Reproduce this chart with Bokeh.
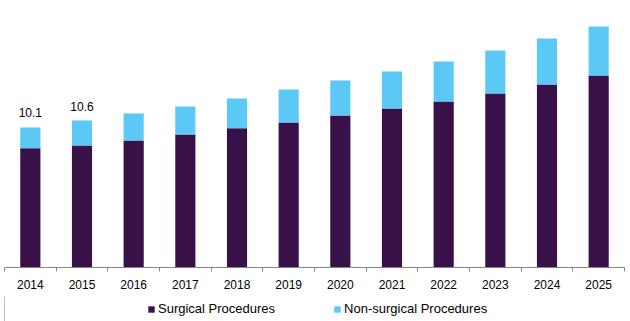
from bokeh.plotting import figure
from bokeh.models import ColumnDataSource, FixedTicker, Legend, LegendItem, Range1d
from bokeh.layouts import column
from bokeh.core.properties import value
from bokeh.embed import file_html
from bokeh.resources import INLINE

years = ["2014", "2015", "2016", "2017", "2018", "2019", "2020", "2021", "2022", "2023", "2024", "2025"]
surgical = [8.61, 8.80, 9.16, 9.60, 10.05, 10.46, 10.97, 11.47, 11.98, 12.55, 13.20, 13.85]
non_surgical = [1.49, 1.80, 1.95, 2.02, 2.14, 2.38, 2.52, 2.67, 2.88, 3.11, 3.32, 3.54]
series_names = ["Surgical Procedures", "Non-surgical Procedures"]
series_colors = ["#371148", "#5BC8F5"]
label_years = ["2014", "2015"]
label_values = [10.1, 10.6]

xs = list(range(len(years)))
src = ColumnDataSource(dict(x=xs, surgical=surgical, non_surgical=non_surgical))

p = figure(frame_width=620, frame_height=257, output_backend="svg", toolbar_location=None,
           x_range=Range1d(-0.5, len(years) - 0.5), y_range=Range1d(0, 18.54),
           min_border_top=10, min_border_left=4, min_border_right=6, min_border_bottom=29,
           y_axis_location=None)
p.outline_line_color = None
p.xgrid.visible = False
p.ygrid.visible = False
p.background_fill_color = "white"
p.border_fill_color = "white"

rs = p.vbar_stack(["surgical", "non_surgical"], x="x", width=0.39, source=src,
                  color=series_colors, line_color=None)

lx = [years.index(y) for y in label_years]
p.text(x=lx, y=label_values, text=[f"{v:.1f}" for v in label_values],
       text_align="center", text_baseline="bottom", y_offset=-10,
       text_font=value("Liberation Sans"), text_font_size="12px", text_color="#000000")

ax = p.xaxis[0]
ax.ticker = FixedTicker(ticks=xs, minor_ticks=[i - 0.5 for i in range(len(years) + 1)])
ax.major_label_overrides = {i: y for i, y in enumerate(years)}
ax.major_tick_out = 0
ax.major_tick_in = 0
ax.minor_tick_out = 4
ax.minor_tick_in = 0
ax.minor_tick_line_color = "#868686"
ax.axis_line_color = "#868686"
ax.axis_line_width = 1
ax.major_label_standoff = 8
ax.major_label_text_font = "Liberation Sans"
ax.major_label_text_font_size = "12px"
ax.major_label_text_color = "#000000"

# legend strip below the chart (swatch renderers sit outside the visible range)
lf = figure(width=630, height=25, output_backend="svg", toolbar_location=None,
            x_range=Range1d(0, 1), y_range=Range1d(0, 1),
            min_border=0, x_axis_location=None, y_axis_location=None)
lf.outline_line_color = None
lf.xgrid.visible = False
lf.ygrid.visible = False
swatches = [lf.vbar(x=[-10.0], top=[1.0], width=0.5, color=c, line_color=None) for c in series_colors]
legend = Legend(items=[LegendItem(label=n, renderers=[r]) for n, r in zip(series_names, swatches)],
                orientation="horizontal", location=(143, 5),
                glyph_width=8, glyph_height=8, label_standoff=3, spacing=58,
                padding=0, margin=0, border_line_color=None,
                label_text_font="Liberation Sans", label_text_font_size="13px",
                label_text_color="#000000", background_fill_alpha=0)
lf.add_layout(legend)

layout = column(p, lf, spacing=0)
open("out.html", "w").write(file_html(layout, INLINE))
